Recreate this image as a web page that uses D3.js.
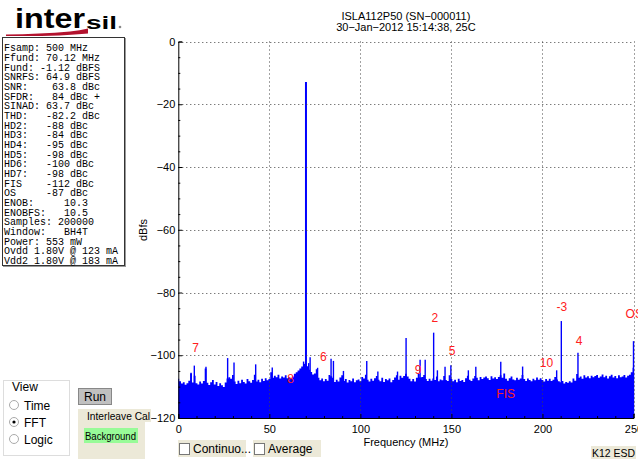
<!DOCTYPE html>
<html><head><meta charset="utf-8">
<script src="https://cdn.jsdelivr.net/npm/d3@7"></script>
<style>
body{margin:0;background:#fff;}
svg{display:block;font-family:"Liberation Sans",Arial,sans-serif;}
</style>
</head><body>
<svg id="c" width="638" height="459"></svg>
<script>
// ---------- DATA ----------
const titleLines = ["ISLA112P50 (SN\u2212000011)", "30\u2212Jan\u22122012 15:14:38, 25C"];
const statsLines = [
  "Fsamp: 500 MHz", "Ffund: 70.12 MHz", "Fund: -1.12 dBFS", "SNRFS: 64.9 dBFS",
  "SNR:    63.8 dBc", "SFDR:   84 dBc +", "SINAD: 63.7 dBc", "THD:   -82.2 dBc",
  "HD2:   -88 dBc", "HD3:   -84 dBc", "HD4:   -95 dBc", "HD5:   -98 dBc",
  "HD6:   -100 dBc", "HD7:   -98 dBc", "FIS    -112 dBc", "OS     -87 dBc",
  "ENOB:     10.3", "ENOBFS:   10.5", "Samples: 200000", "Window:   BH4T",
  "Power: 553 mW", "Ovdd 1.80V @ 123 mA", "Vdd2 1.80V @ 183 mA"
];
const xTicks = [0, 50, 100, 150, 200, 250];
const xTickLabels = ["0", "50", "100", "150", "200", "250"];
const xMinorTicks = [10, 20, 30, 40, 60, 70, 80, 90, 110, 120, 130, 140, 160, 170, 180, 190, 210, 220, 230, 240];
const yTicks = [-120, -100, -80, -60, -40, -20, 0];
const yTickLabels = ["\u2212120", "\u2212100", "\u221280", "\u221260", "\u221240", "\u221220", "0"];
const yMinorTicks = [-115,-110,-105,-95,-90,-85,-75,-70,-65,-55,-50,-45,-35,-30,-25,-15,-10,-5];
// noise floor, dBFS, one value per MHz from 0 to 250 MHz
const noiseFloor = [
 -107.5,-108.3,-109.0,-108.6,-109.4,-108.9,-108.1,-105.8,-108.7,-106.5,
 -108.9,-109.3,-108.4,-109.0,-108.2,-104.2,-108.8,-109.5,-108.6,-107.9,
 -109.3,-108.5,-109.8,-108.9,-109.6,-110.1,-108.7,-107.4,-107.0,-107.5,
 -106.3,-108.4,-109.2,-108.1,-108.9,-107.8,-108.5,-109.0,-107.6,-108.3,
 -108.8,-107.9,-106.2,-108.4,-107.8,-108.6,-107.5,-108.2,-107.3,-108.0,
 -107.6,-105.4,-107.2,-106.5,-107.0,-106.2,-107.4,-106.8,-107.1,-106.4,
 -107.3,-106.9,-107.5,-106.8,-105.9,-105.4,-104.9,-104.2,-103.6,-102.8,
 -102.5,-103.5,-104.6,-105.3,-106.1,-105.8,-104.5,-107.2,-108.0,-107.4,
 -108.3,-107.6,-108.1,-106.3,-106.7,-107.2,-108.5,-107.8,-108.4,-107.1,
 -106.4,-108.2,-107.6,-108.7,-107.9,-108.3,-107.4,-108.6,-108.0,-107.7,
 -108.3,-106.9,-107.4,-106.2,-107.8,-108.4,-107.5,-108.1,-107.3,-106.6,
 -107.8,-108.3,-107.2,-108.5,-107.6,-108.0,-107.4,-108.6,-107.9,-107.1,
 -106.4,-107.8,-106.5,-107.2,-106.6,-105.9,-106.8,-107.5,-108.3,-107.6,
 -108.4,-107.2,-105.8,-107.1,-106.9,-106.3,-107.6,-108.2,-107.5,-108.1,
 -107.4,-107.9,-106.8,-108.3,-107.7,-108.0,-106.6,-107.9,-108.2,-106.4,
 -107.6,-108.3,-107.8,-108.6,-107.5,-108.2,-107.9,-108.5,-107.3,-106.5,
 -107.8,-108.2,-107.4,-106.6,-107.2,-108.0,-106.9,-107.6,-107.1,-106.8,
 -107.3,-107.9,-106.7,-107.4,-107.0,-107.6,-106.9,-106.4,-107.2,-105.8,
 -107.5,-108.1,-107.3,-106.8,-107.7,-108.0,-107.2,-107.8,-107.4,-106.3,
 -107.6,-108.2,-107.4,-107.9,-108.3,-107.5,-108.0,-107.1,-107.8,-107.3,
 -107.9,-108.4,-107.6,-108.1,-107.5,-108.2,-107.8,-106.9,-107.7,-108.3,
 -108.6,-108.2,-109.0,-108.5,-108.8,-108.3,-108.7,-107.4,-108.1,-106.0,
 -107.2,-106.8,-107.5,-106.4,-107.1,-106.7,-107.3,-106.5,-107.0,-106.6,
 -106.3,-107.2,-106.8,-106.1,-107.0,-106.5,-107.4,-106.7,-106.2,-107.1,
 -106.6,-107.3,-106.4,-107.0,-106.8,-106.3,-107.1,-106.5,-106.2,-105.4,
 -104.0
];
const spurFreqs  = [7.0, 8.8, 15.2, 27.1, 30.6, 42.5, 51.6, 68.8, 70.12, 71.6, 72.4, 76.5, 83.9, 85.2, 90.7, 103.5, 109.6, 120.4, 125.1, 132.8, 135.6, 140.24, 142.3, 146.5, 149.7, 159.3, 163.4, 177.1, 189.1, 207.8, 210.36, 219.5, 250];
const spurLevels = [-105.6, -103.3, -103.7, -100.9, -102.3, -102.9, -103.9, -102.0, -12.9, -102.5, -100.6, -104.0, -101.1, -101.8, -105.0, -101.8, -105.2, -105.2, -94.5, -101.4, -101.4, -92.8, -104.8, -103.7, -103.2, -104.8, -103.7, -102.1, -103.6, -104.8, -89.1, -99.2, -95.5];
const markerTexts  = ["7", "8", "6", "9", "2", "5", "FIS", "10", "-3", "4", "OS"];
const markerFreqs  = [9.55, 61.7, 79.6, 131.7, 140.9, 150.4, 179.8, 202.2, 210.6, 220.1, 250.4];
const markerLevels = [-97.8, -107.7, -100.6, -104.8, -88.2, -98.7, -112.3, -102.5, -84.6, -95.3, -87.0];
const viewOptions = ["Time", "FFT", "Logic"];

// ---------- DRAW ----------
const svg = d3.select("#c");
const x = d3.scaleLinear().domain([0, 250]).range([178.3, 633.5]);
const y = d3.scaleLinear().domain([-120, 0]).range([418, 41.5]);

// logo
const logo = svg.append("g");
logo.append("path")
  .attr("d", "M6,34.5 Q40,34 70,31.5 Q80,30.5 88,28.5 L88,33.5 Q60,36.5 6,36 Z")
  .attr("fill", "#b3122e");
logo.append("text").attr("x", 15).attr("y", 28).attr("font-size", 27).attr("font-weight", 900)
  .attr("textLength", 70).attr("lengthAdjust", "spacingAndGlyphs").text("inter");
logo.append("text").attr("x", 86).attr("y", 29).attr("font-size", 19).attr("font-weight", 900)
  .attr("textLength", 31).attr("lengthAdjust", "spacingAndGlyphs").text("sil");
logo.append("circle").attr("cx", 120).attr("cy", 27).attr("r", 1.3).attr("fill", "#888");

// stats box
svg.append("rect").attr("x", 2.5).attr("y", 37.5).attr("width", 122).attr("height", 228)
  .attr("fill", "#fff").attr("stroke", "#333").attr("stroke-width", 1);
svg.append("line").attr("x1", 3).attr("x2", 125).attr("y1", 266.5).attr("y2", 266.5).attr("stroke", "#999");
svg.append("line").attr("x1", 125.5).attr("x2", 125.5).attr("y1", 38).attr("y2", 267).attr("stroke", "#999");
svg.append("g").selectAll("text").data(statsLines).join("text")
  .attr("x", 4).attr("y", (d, i) => 51.2 + i * 9.67)
  .attr("font-family", "'Liberation Mono','Courier New',monospace").attr("font-size", 10)
  .attr("xml:space", "preserve").style("white-space", "pre")
  .text(d => d);

// title
svg.append("g").selectAll("text").data(titleLines).join("text")
  .attr("x", 405.9).attr("y", (d, i) => 20 + i * 11).attr("text-anchor", "middle")
  .attr("font-size", 11).text(d => d);

// spectrum noise floor
const pts = noiseFloor.map((v, i) => ({ f: i, v: v }));
svg.append("path").datum(pts)
  .attr("d", d3.area().x(d => x(d.f)).y0(y(-120)).y1(d => y(d.v)).curve(d3.curveStep))
  .attr("fill", "#0000ff");
// spurs
svg.append("g").selectAll("line").data(spurFreqs).join("line")
  .attr("x1", d => x(d)).attr("x2", d => x(d))
  .attr("y1", y(-120)).attr("y2", (d, i) => y(spurLevels[i]))
  .attr("stroke", "#0000ff").attr("stroke-width", (d, i) => spurLevels[i] > -20 ? 2 : 1.4);

// grid
const grid = svg.append("g").attr("stroke", "#444").attr("stroke-dasharray", "1,3").attr("stroke-width", 1);
grid.selectAll("line.h").data(yTicks.filter(d => d > -120)).join("line").attr("class", "h")
  .attr("x1", x(0)).attr("x2", x(250)).attr("y1", d => Math.round(y(d)) + 0.5).attr("y2", d => Math.round(y(d)) + 0.5);
grid.selectAll("line.v").data(xTicks.filter(d => d > 0)).join("line").attr("class", "v")
  .attr("y1", y(0)).attr("y2", y(-120)).attr("x1", d => Math.round(x(d)) + 0.5).attr("x2", d => Math.round(x(d)) + 0.5);

// axes
svg.append("g").attr("transform", `translate(0,${y(-120)})`)
  .call(d3.axisBottom(x).tickValues(xTicks).tickSize(-4).tickPadding(7)
    .tickFormat((d, i) => xTickLabels[i]));
svg.append("g").attr("transform", `translate(0,${y(-120)})`)
  .call(d3.axisBottom(x).tickValues(xMinorTicks).tickSize(-2).tickFormat(""))
  .call(g => g.select(".domain").remove());
svg.append("g").attr("transform", `translate(${x(0)},0)`)
  .call(d3.axisLeft(y).tickValues(yTicks).tickSize(-4).tickPadding(3)
    .tickFormat((d, i) => yTickLabels[i]));
svg.append("g").attr("transform", `translate(${x(0)},0)`)
  .call(d3.axisLeft(y).tickValues(yMinorTicks).tickSize(-2).tickFormat(""))
  .call(g => g.select(".domain").remove());
svg.selectAll(".tick text").attr("font-size", 11).attr("font-family", "'Liberation Sans',Arial,sans-serif").attr("fill", "#000");
svg.selectAll(".domain, .tick line").attr("stroke", "#000");

// axis labels
svg.append("text").attr("x", 405.9).attr("y", 446).attr("text-anchor", "middle").attr("font-size", 11).text("Frequency (MHz)");
svg.append("text").attr("transform", "translate(147,230) rotate(-90)").attr("text-anchor", "middle")
  .attr("font-size", 11).text("dBfs");

// markers
svg.append("g").selectAll("text").data(markerTexts).join("text")
  .attr("x", (d, i) => x(markerFreqs[i])).attr("y", (d, i) => y(markerLevels[i]))
  .attr("text-anchor", "middle").attr("dominant-baseline", "central")
  .attr("font-size", 12).attr("fill", "#ff2020").text(d => d);

// ---------- controls ----------
const ctl = svg.append("g").attr("font-size", 12);
ctl.append("rect").attr("x", 3.5).attr("y", 380.5).attr("width", 66).attr("height", 75)
  .attr("fill", "#fff").attr("stroke", "#ddd");
ctl.append("text").attr("x", 12).attr("y", 391).text("View");
viewOptions.forEach((o, i) => {
  const cy = 405 + i * 17;
  ctl.append("circle").attr("cx", 14).attr("cy", cy).attr("r", 4.5).attr("fill", "#fff").attr("stroke", "#aaa");
  if (o === "FFT") ctl.append("circle").attr("cx", 14).attr("cy", cy).attr("r", 1.6).attr("fill", "#000");
  ctl.append("text").attr("x", 24).attr("y", cy + 4.5).text(o);
});
// Run button
ctl.append("rect").attr("x", 78.5).attr("y", 388.5).attr("width", 33).attr("height", 16)
  .attr("fill", "#c0c0c0").attr("stroke", "#888");
ctl.append("text").attr("x", 95).attr("y", 401).attr("text-anchor", "middle").text("Run");
// Interleave panel
ctl.append("rect").attr("x", 78).attr("y", 409).attr("width", 67).attr("height", 50).attr("fill", "#ece9d8");
ctl.append("rect").attr("x", 145).attr("y", 409).attr("width", 6).attr("height", 13).attr("fill", "#ece9d8");
ctl.append("text").attr("x", 87).attr("y", 420).attr("font-size", 11.5)
  .attr("textLength", 63).attr("lengthAdjust", "spacingAndGlyphs").text("Interleave Cal");
ctl.append("rect").attr("x", 84).attr("y", 428).attr("width", 54).attr("height", 15).attr("fill", "#98fb98");
ctl.append("text").attr("x", 85).attr("y", 440).attr("font-size", 11)
  .attr("textLength", 51).attr("lengthAdjust", "spacingAndGlyphs").text("Background");
// checkboxes
[["Continuo...", 178], ["Average", 253]].forEach(([t, x0]) => {
  ctl.append("rect").attr("x", x0).attr("y", 440).attr("width", 68).attr("height", 17).attr("fill", "#ece9d8");
  ctl.append("rect").attr("x", x0 + 1.5).attr("y", 443.5).attr("width", 10).attr("height", 11)
    .attr("fill", "#fff").attr("stroke", "#777");
  ctl.append("text").attr("x", x0 + 15).attr("y", 453).text(t);
});
ctl.append("rect").attr("x", 591).attr("y", 446).attr("width", 45).attr("height", 13).attr("fill", "#ece9d8");
ctl.append("text").attr("x", 592).attr("y", 457).attr("font-size", 11.5)
  .attr("textLength", 43).attr("lengthAdjust", "spacingAndGlyphs").text("K12 ESD");
</script>
</body></html>
